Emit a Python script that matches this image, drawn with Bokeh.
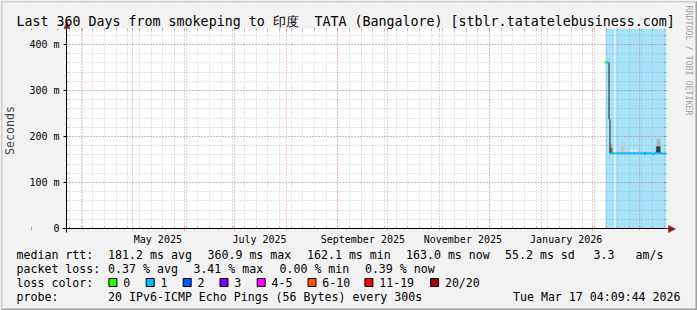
import math
import numpy as np
import pandas as pd
from bokeh.plotting import figure
from bokeh.models import (FixedTicker, Label, PolyAnnotation, BoxAnnotation, Range1d,
                          DatetimeAxis, LinearAxis, Grid)
from bokeh.embed import file_html
from bokeh.resources import INLINE

# ---------------- data ----------------
end_time = "2026-03-17 04:09:44"
span_days = 360

x_tick_dates = ["2025-05-16", "2025-07-16", "2025-09-16", "2025-11-15", "2026-01-16"]
x_tick_labels = ["May 2025", "July 2025", "September 2025", "November 2025", "January 2026"]
y_ticks = [0, 100, 200, 300, 400]
y_tick_labels = ["0", "100 m", "200 m", "300 m", "400 m"]
y_minor_step = 20
y_max = 434.7

# highlighted (blue) periods
blue_start = ["2026-02-08 13:45", "2026-02-14 13:45"]
blue_end = ["2026-02-13 23:20", "2026-03-17 04:09"]

# median rtt (ms) and lost pings per step
med_time = ["2026-02-07 23:20", "2026-02-09 04:10", "2026-02-10 09:00", "2026-02-10 13:00",
            "2026-02-11 03:40", "2026-02-12 12:00", "2026-02-13 20:00", "2026-02-15 00:00",
            "2026-02-17 00:00", "2026-02-19 00:00", "2026-02-21 00:00", "2026-02-23 00:00",
            "2026-02-25 00:00", "2026-02-27 00:00", "2026-03-01 00:00", "2026-03-03 00:00",
            "2026-03-05 00:00", "2026-03-07 00:00", "2026-03-08 20:00", "2026-03-09 04:30",
            "2026-03-09 14:00", "2026-03-11 00:00", "2026-03-13 00:00", "2026-03-15 00:00",
            "2026-03-17 04:00"]
med_ms = [361.0, 360.9, 360.6, float("nan"),
          163.6, 163.5, 163.4, 163.5,
          163.6, 163.5, 163.4, 163.5,
          163.6, 163.5, 163.4, 163.3,
          163.5, 163.4, 163.4, 161.0,
          163.4, 163.6, 163.5, 163.2,
          163.0]
med_loss = [0, 1, 1, 1,
            1, 1, 0, 1,
            1, 1, 1, 1,
            1, 1, 1, 1,
            1, 1, 1, 1,
            1, 1, 1, 1,
            1]

# smoke (spread of the 20 pings)
smoke_t0 = ["2026-02-09 14:10", "2026-02-11 03:40", "2026-02-11 03:40", "2026-02-17 12:00",
            "2026-02-18 00:00", "2026-02-18 23:00", "2026-02-23 13:45", "2026-02-25 23:20",
            "2026-03-09 23:20", "2026-03-11 04:10", "2026-03-10 23:50", "2026-03-03 16:00",
            "2026-02-10 09:00", "2026-02-10 23:20"]
smoke_t1 = ["2026-02-10 23:20", "2026-02-12 18:30", "2026-02-12 18:30", "2026-02-18 00:00",
            "2026-02-18 23:00", "2026-02-20 09:25", "2026-02-25 04:30", "2026-02-27 18:30",
            "2026-03-11 04:10", "2026-03-13 13:45", "2026-03-13 13:45", "2026-03-04 13:40",
            "2026-02-10 23:20", "2026-02-11 13:45"]
smoke_lo = [362, 164, 175, 164, 164, 164, 164, 164, 164, 179, 164, 161, 237, 164]
smoke_hi = [371, 175, 184, 177, 182, 190, 173, 172, 177, 195, 179, 166, 361, 237]
smoke_shade = ["#c8c8c8", "#6e6e6e", "#a8a8a8", "#d4d4d4", "#c4c4c4", "#cdcdcd", "#e0e0e0",
               "#e0e0e0", "#cacaca", "#b4b4b4", "#383838", "#3c3c3c", "#1e1e1e", "#1e1e1e"]

loss_labels = ["0", "1", "2", "3", "4-5", "6-10", "11-19", "20/20"]
loss_limits = [0, 1, 2, 3, 5, 10, 19, 20]
loss_colors = ["#26ff00", "#00b8ff", "#0059ff", "#7e00ff", "#ff00ff", "#ff5500", "#ff0000", "#a10000"]

title_text_a = "Last 360 Days from smokeping to 印度"
title_text_b = "TATA (Bangalore) [stblr.tatatelebusiness.com]"
rtt_stats = ["181.2 ms avg", "360.9 ms max", "162.1 ms min", "163.0 ms now", "55.2 ms sd", "3.3", "am/s"]
loss_stats = ["0.37 % avg", "3.41 % max", "0.00 % min", "0.39 % now"]
probe_text = "20 IPv6-ICMP Echo Pings (56 Bytes) every 300s"
stamp_text = "Tue Mar 17 04:09:44 2026"
watermark = "RRDTOOL / TOBI OETIKER"

# ---------------- layout constants ----------------
W, H = 697, 310
FL, FR, FT, FB = 66, 666, 28, 228          # chart canvas inside the picture
MONO = "DejaVu Sans Mono"
LEG = "11.6px"
ARROW = "#7f1f1f"
BACK = "#f2f2f2"
MGRID, MGRID_A = "#de4f4f", 0.6
GRID, GRID_A = "#8f8f8f", 0.5

t_end = pd.Timestamp(end_time)
t_start = t_end - pd.Timedelta(days=span_days)

def ms(ts):
    return int(pd.Timestamp(ts).value // 10**6)

T0, T1 = ms(t_start), ms(t_end)
xpx = (T1 - T0) / (FR - FL)               # time per pixel
ypx = y_max / (FB - FT)                   # rtt per pixel
x_lo, x_hi = T0 - FL * xpx, T1 + (W - FR) * xpx
y_lo, y_hi = -(H - FB) * ypx, y_max + FT * ypx

month_starts = [ms(t) for t in pd.date_range("2025-03-01", "2026-03-01", freq="MS")]
week_starts = [ms(t) for t in pd.date_range("2025-03-17", "2026-03-16", freq="7D")]
y_minor = list(range(y_minor_step, int(y_max) + y_minor_step, y_minor_step))

p = figure(width=W, height=H, x_axis_type=None, y_axis_type=None,
           x_range=Range1d(x_lo, x_hi), y_range=Range1d(y_lo, y_hi),
           output_backend="svg", toolbar_location=None,
           min_border_left=0, min_border_right=0, min_border_top=0, min_border_bottom=0,
           background_fill_color="white", border_fill_color=BACK,
           outline_line_color=None)

# grids
xg = Grid(dimension=0, ticker=FixedTicker(ticks=month_starts, minor_ticks=week_starts))
yg = Grid(dimension=1, ticker=FixedTicker(ticks=y_ticks, minor_ticks=y_minor))
for g in (xg, yg):
    g.grid_line_color = MGRID
    g.grid_line_alpha = MGRID_A
    g.grid_line_dash = "1 2"
    g.minor_grid_line_color = GRID
    g.minor_grid_line_alpha = GRID_A
    g.minor_grid_line_dash = "1 2"
    p.add_layout(g, "center")

# short solid grid ticks at the canvas edges
def edge_ticks(cls, side, loc, bounds, ticks, minor, tin, tout):
    a = cls(fixed_location=loc, bounds=bounds,
            ticker=FixedTicker(ticks=ticks, minor_ticks=minor))
    a.axis_line_color = None
    a.major_label_overrides = {t: "" for t in ticks}
    a.major_tick_line_color = MGRID
    a.major_tick_line_alpha = MGRID_A
    a.minor_tick_line_color = GRID
    a.minor_tick_line_alpha = 0.7
    a.major_tick_in, a.major_tick_out = tin, tout
    a.minor_tick_in, a.minor_tick_out = tin, 0
    p.add_layout(a, side)

edge_ticks(DatetimeAxis, "below", 0, (T0, T1), month_starts, week_starts, 2, 2)
edge_ticks(DatetimeAxis, "above", y_max, (T0, T1), month_starts, week_starts, 2, 0)
edge_ticks(LinearAxis, "left", T0, (0, y_max), [], y_minor, 2, 0)
edge_ticks(LinearAxis, "right", T1, (0, y_max), y_ticks, y_minor, 2, 0)

# main axes
xa = DatetimeAxis(fixed_location=0, bounds=(T0 - 4 * xpx, T1 + 2 * xpx))
ya = LinearAxis(fixed_location=T0, bounds=(-4 * ypx, y_max))
p.add_layout(xa, "below")
p.add_layout(ya, "left")
xa.ticker = FixedTicker(ticks=[ms(d) for d in x_tick_dates])
xa.major_label_overrides = {ms(d): lab for d, lab in zip(x_tick_dates, x_tick_labels)}
xa.major_tick_out = 0
xa.major_tick_in = 0
xa.minor_tick_out = 0
xa.minor_tick_in = 0
xa.major_label_standoff = 5
ya.ticker = FixedTicker(ticks=y_ticks)
ya.major_label_overrides = {v: lab for v, lab in zip(y_ticks, y_tick_labels)}
ya.major_tick_out = 3
ya.major_tick_in = 0
ya.minor_tick_out = 0
ya.minor_tick_in = 0
ya.major_label_standoff = 4
ya.axis_label = "Seconds"
ya.axis_label_standoff = 9
ya.axis_label_text_font = MONO
ya.axis_label_text_font_size = LEG
ya.axis_label_text_font_style = "normal"
for a in (xa, ya):
    a.axis_line_color = "#000000"
    a.major_tick_line_color = "#000000"
    a.major_label_text_font = MONO
    a.major_label_text_font_size = "10px"
    a.major_label_text_color = "#000000"

# blue highlighted periods (below grid)
p.quad(left=pd.to_datetime(blue_start), right=pd.to_datetime(blue_end),
       bottom=0, top=y_max, fill_color="#a6e2fa", line_color=None, level="image")

# grey surround of the chart canvas (hides grid outside the canvas)
p.quad(left=[x_lo, T1, T0, T0], right=[T0, x_hi, T1, T1],
       bottom=[y_lo, y_lo, y_max, y_lo], top=[y_hi, y_hi, y_hi, 0],
       fill_color=BACK, line_color=None)

# smoke
p.quad(left=pd.to_datetime(smoke_t0), right=pd.to_datetime(smoke_t1),
       bottom=smoke_lo, top=smoke_hi, fill_color=smoke_shade, line_color=None)

# median line coloured by loss
def loss_color(n):
    for lim, c in zip(loss_limits, loss_colors):
        if n <= lim:
            return c
    return loss_colors[-1]

mt = pd.to_datetime(med_time)
mv = np.array(med_ms, dtype=float)
ml = np.array(med_loss)
ok = ~np.isnan(mv[:-1]) & ~np.isnan(mv[1:])
p.segment(x0=mt[:-1][ok], y0=mv[:-1][ok], x1=mt[1:][ok], y1=mv[1:][ok],
          line_color=[loss_color(n) for n in ml[:-1][ok]], line_width=2)

# 3d border of the picture
p.add_layout(PolyAnnotation(xs=[0, 2, 2, W - 2, W, 0], ys=[H, H - 2, 2, 2, 0, 0],
                            xs_units="canvas", ys_units="canvas",
                            fill_color="#cfcfcf", fill_alpha=1, line_color=None))
p.add_layout(PolyAnnotation(xs=[2, W - 2, W - 2, W, W, 0], ys=[H - 2, H - 2, 2, 0, H, H],
                            xs_units="canvas", ys_units="canvas",
                            fill_color="#9e9e9e", fill_alpha=1, line_color=None))

# axis arrows
p.add_layout(PolyAnnotation(xs=[FR + 1, FR + 2, FR + 2, FR + 9, FR + 2, FR + 2, FR + 1],
                            ys=[FB - 0.5, FB - 0.5, FB - 3, FB + 0.5, FB + 4, FB + 0.5, FB + 0.5],
                            xs_units="canvas", ys_units="canvas",
                            fill_color=ARROW, fill_alpha=1, line_color=ARROW, line_alpha=1, line_width=0.5))
p.add_layout(PolyAnnotation(xs=[FL - 2.5, FL + 0.5, FL + 3.5],
                            ys=[FT, FT - 7, FT],
                            xs_units="canvas", ys_units="canvas",
                            fill_color=ARROW, fill_alpha=1, line_color=ARROW, line_alpha=1, line_width=0.5))

def txt(x, y, s, size=LEG, align="left", color="#000000", font=MONO, **kw):
    p.add_layout(Label(x=x, y=y, x_units="canvas", y_units="canvas", text=s,
                       text_font=font, text_font_size=size, text_align=align,
                       text_baseline="alphabetic", text_color=color, **kw))

# title
txt(16, 21, title_text_a, size="13.3px")
txt(314, 21, title_text_b, size="13.3px")

# watermark
p.add_layout(Label(x=688, y=5, x_units="canvas", y_units="canvas", text=watermark,
                   text_font=MONO, text_font_size="8.3px", text_color="#a4a4a4",
                   angle=-math.pi / 2, text_align="left", text_baseline="middle"))

# legend rows
row_y = [254, 268, 282, 296]
txt(16, row_y[0], "median rtt:")
for x, s in zip([107.6, 207, 306.5, 405.5, 504.5, 593, 635], rtt_stats):
    txt(x, row_y[0], s)
txt(16, row_y[1], "packet loss:")
for x, s in zip([107.6, 192.9, 279, 364.4], loss_stats):
    txt(x, row_y[1], s)
txt(16, row_y[2], "loss color:")
loss_text_x = [122.7, 160, 197, 233.8, 271, 321.8, 378.7, 444.4]
for x, s, c in zip(loss_text_x, loss_labels, loss_colors):
    p.add_layout(BoxAnnotation(left=x - 14.3, right=x - 6.3, top=278, bottom=286,
                               left_units="canvas", right_units="canvas",
                               top_units="canvas", bottom_units="canvas",
                               fill_color=c, fill_alpha=1, line_color="#000000",
                               line_width=1, line_alpha=1))
    txt(x, row_y[2], s)
txt(16, row_y[3], "probe:")
txt(107.6, row_y[3], probe_text)
txt(680, row_y[3], stamp_text, align="right")

open("out.html", "w").write(file_html(p, INLINE))
